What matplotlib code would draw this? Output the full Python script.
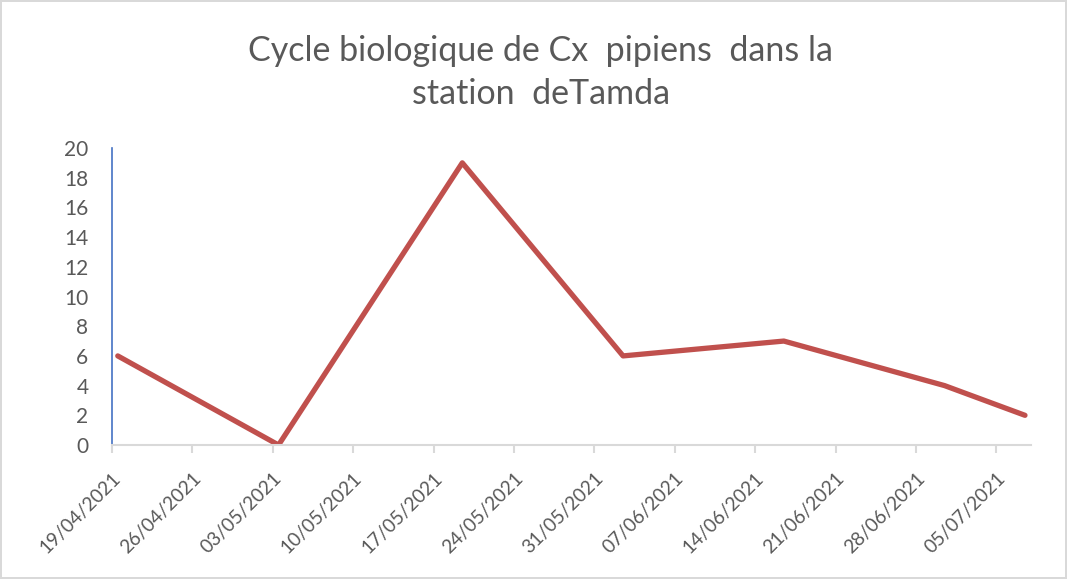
import numpy as np
import matplotlib.pyplot as plt
import matplotlib.dates as mdates
import matplotlib.transforms as mtransforms
from datetime import datetime, timedelta

# relevés (date, nombre)
dates = ["19/04/2021", "03/05/2021", "19/05/2021", "02/06/2021",
         "16/06/2021", "30/06/2021", "07/07/2021"]
effectifs = [6, 0, 19, 6, 7, 4, 2]

axe_debut = "19/04/2021"
axe_fin = "08/07/2021"
yticks = list(range(0, 21, 2))

plt.rcParams['font.family'] = ['Lato', 'DejaVu Sans']

d = [datetime.strptime(s, "%d/%m/%Y") for s in dates]
# Excel : points au milieu de la journée
x = [v + timedelta(hours=12) for v in d]
debut = datetime.strptime(axe_debut, "%d/%m/%Y")
fin = datetime.strptime(axe_fin, "%d/%m/%Y")

fig = plt.figure(figsize=(10.67, 5.79), dpi=100)
fig.patch.set_edgecolor('#D9D9D9')
fig.patch.set_linewidth(1.5)
ax = fig.add_axes([0.105, 0.2314, 0.861, 0.513])

ax.plot(x, effectifs, color='#C0504D', linewidth=3.8, solid_capstyle='round')

ax.set_xlim(debut, fin)
ax.set_ylim(0, 20)
ax.set_yticks(yticks)
ax.set_xticks([debut + timedelta(days=7 * i) for i in range(12)])
ax.xaxis.set_major_formatter(mdates.DateFormatter("%d/%m/%Y"))

for s in ['top', 'right']:
    ax.spines[s].set_visible(False)
ax.spines['left'].set_color('#4472C4')
ax.spines['left'].set_linewidth(1.2)
ax.spines['bottom'].set_color('#D9D9D9')
ax.spines['bottom'].set_linewidth(1.5)

ax.tick_params(axis='y', length=0, pad=17, labelsize=15, labelcolor='#595959')
ax.tick_params(axis='x', length=6, width=1.5, color='#D9D9D9', pad=18.5,
               labelsize=13.8, labelcolor='#595959')
decalage = mtransforms.ScaledTranslation(0.1, 0, fig.dpi_scale_trans)
for lab in ax.get_xticklabels():
    lab.set_rotation(45)
    lab.set_ha('right')
    lab.set_va('baseline')
    lab.set_rotation_mode('anchor')
    lab.set_transform(lab.get_transform() + decalage)

fig.text(0.507, 0.875, "Cycle biologique de Cx  pipiens  dans la\nstation  deTamda",
         ha='center', va='center', fontsize=24.5, color='#595959', linespacing=1.45)

fig.savefig("out.png", dpi=100, edgecolor=fig.get_edgecolor())
